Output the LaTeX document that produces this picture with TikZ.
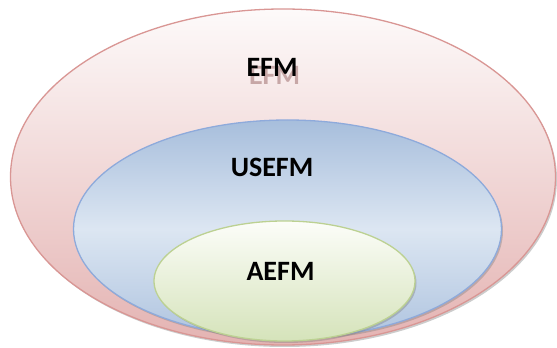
\documentclass[tikz,border=0pt]{standalone}
\usepackage{fontspec}
\setmainfont{Carlito}
\usetikzlibrary{shapes.geometric,shadows}
\definecolor{efmline}{HTML}{D99694}
\definecolor{efmtop}{HTML}{FDFAFA}
\definecolor{efmbot}{HTML}{E4B3B2}
\definecolor{useline}{HTML}{8EAADB}
\definecolor{uselight}{HTML}{DCE6F2}
\definecolor{usedark}{HTML}{A7BEDC}
\definecolor{aeline}{HTML}{BCD192}
\definecolor{aetop}{HTML}{FCFDF9}
\definecolor{aebot}{HTML}{D5E3BA}
\definecolor{efmshade}{HTML}{8C5655}

\begin{document}
\begin{tikzpicture}[x=1pt, y=1pt,
  set/.style = {ellipse, inner sep=0pt, line width=1.3pt,
    drop shadow={shadow xshift=1.5pt, shadow yshift=-2pt, opacity=.4}},
  tag/.style = {font=\fontsize{28}{28}\selectfont\bfseries}]
\useasboundingbox (0,0) rectangle (557,348);
\node (efm) [set, draw=efmline, top color=efmtop, bottom color=efmbot,
  minimum width=545pt, minimum height=336pt] at (283,171) {};
\node (usefm) [set, draw=useline, shading angle=-40, top color=usedark,
  bottom color=usedark!85!uselight, middle color=uselight,
  minimum width=428pt, minimum height=218pt] at (287.5,119) {};
\node (aefm) [set, draw=aeline, top color=aetop, bottom color=aebot,
  minimum width=261pt, minimum height=120pt] at (284.5,67) {};
% labels
\node (efmshadow) [tag, text=efmshade, opacity=.45] at (274.5,273) {EFM};
\node (efmtag) [tag] at (272,281) {EFM};
\node (usefmtag) [tag] at (272,181) {USEFM};
\node (aefmtag) [tag] at (280.5,77) {AEFM};
\end{tikzpicture}
\end{document}
